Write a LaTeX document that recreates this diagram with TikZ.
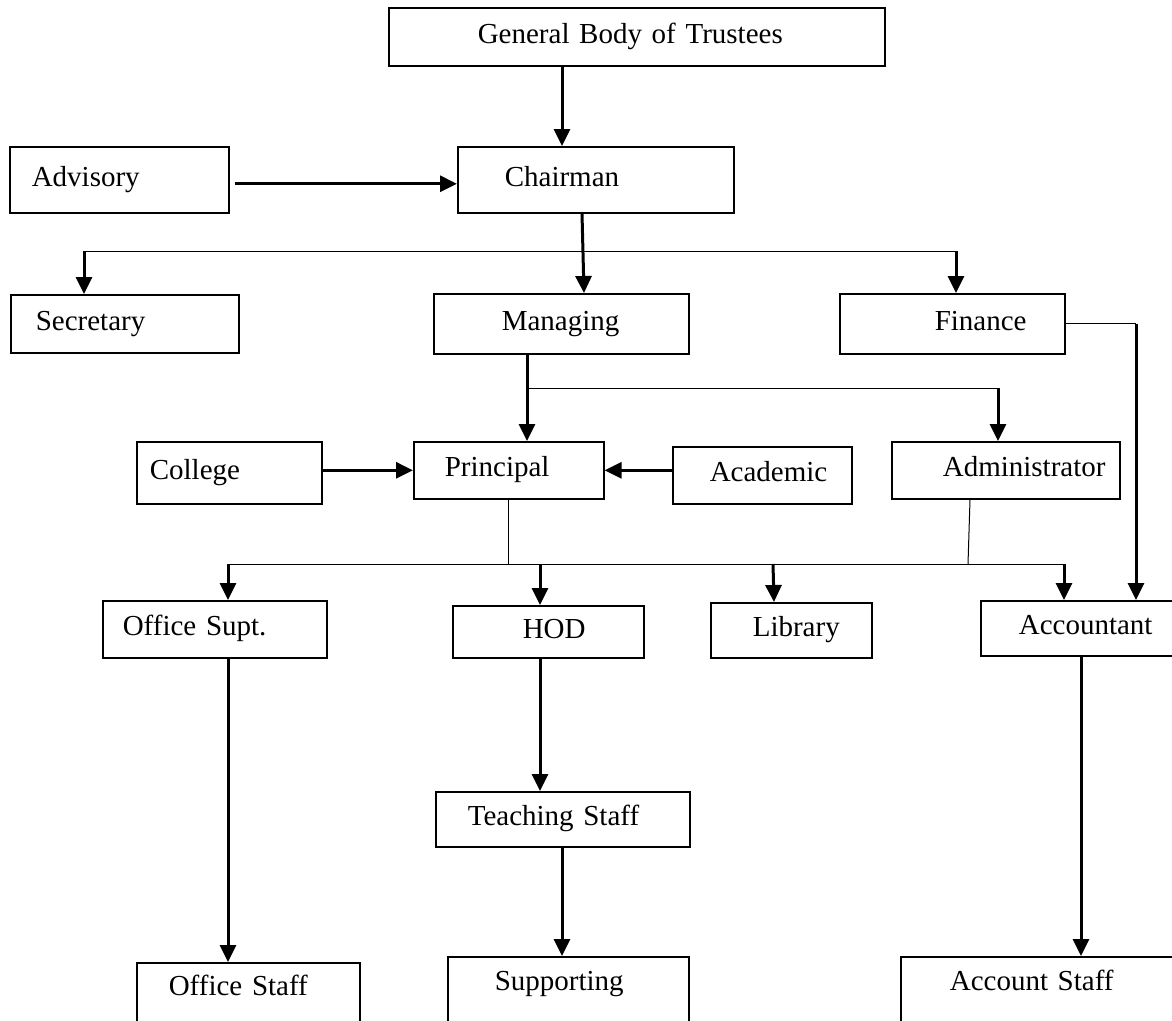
\documentclass[tikz,border=0pt]{standalone}
\usepackage{fontspec}
\setmainfont{Liberation Serif}
\usetikzlibrary{arrows.meta}
\setlength{\parindent}{0pt}

\begin{document}
\begin{tikzpicture}[x=1pt, y=-1pt,
    box/.style={draw, line width=1.6pt, anchor=north west, inner sep=0pt, align=left,
        text height=20pt, text depth=7pt, font=\fontsize{29}{34}\selectfont},
    txtoff/.style={execute at begin node={\hspace*{#1}}},
    conn/.style={line width=3pt, -{Triangle[length=17pt, width=16pt]}},
    branch/.style={line width=1pt}]
    \useasboundingbox (0,0) rectangle (1172,1020);
    \clip (0,0) rectangle (1172,1020);

    % Board boxes
    \node[box, txtoff=89pt, text width=496pt, minimum height=58pt] (gbt) at (388,7) {General Body of Trustees};
    \node[box, txtoff=22pt, text width=219pt, minimum height=66pt] (advisory) at (9,146) {Advisory};
    \node[box, txtoff=47pt, text width=276pt, minimum height=66pt] (chairman) at (457,146) {Chairman};

    % Second row
    \node[box, txtoff=25pt, text width=228pt, minimum height=58pt] (secretary) at (10,294) {Secretary};
    \node[box, txtoff=68pt, text width=255pt, minimum height=60pt] (managing) at (433,293) {Managing};
    \node[box, txtoff=95pt, text width=225pt, minimum height=60pt] (finance) at (839,293) {Finance};

    % College row
    \node[box, txtoff=13pt, text width=185pt, minimum height=62pt] (college) at (136,441) {College};
    \node[box, txtoff=31pt, text width=190pt, minimum height=57pt] (principal) at (413,441) {Principal};
    \node[box, txtoff=37pt, text width=179pt, minimum height=57pt] (academic) at (672,446) {Academic};
    \node[box, txtoff=51pt, text width=228pt, minimum height=57pt] (administrator) at (891,441) {Administrator};

    % Sections
    \node[box, txtoff=20pt, text width=224pt, minimum height=57pt] (officesupt) at (102,600) {Office Supt.};
    \node[box, txtoff=70pt, text width=191pt, minimum height=52pt] (hod) at (452,605) {HOD};
    \node[box, txtoff=42pt, text width=161pt, minimum height=55pt] (library) at (710,602) {Library};
    \node[box, txtoff=38pt, text width=230pt, minimum height=55pt] (accountant) at (980,600) {Accountant};
    \node[box, txtoff=32pt, text width=254pt, minimum height=55pt] (teaching) at (435,791) {Teaching Staff};

    % Staff boxes, cut by the page edge
    \node[box, txtoff=32pt, text width=223pt, text height=33pt, text depth=100pt] (officestaff) at (136,962) {Office Staff};
    \node[box, txtoff=47pt, text width=241pt, text height=34pt, text depth=100pt] (supporting) at (447,956) {Supporting};
    \node[box, txtoff=49pt, text width=300pt, text height=34pt, text depth=100pt] (accountstaff) at (900,956) {Account Staff};

    % Arrows
    \draw[conn] ([xshift=105pt]chairman.north west |- gbt.south) -- ([xshift=105pt]chairman.north west);
    \draw[conn] ([xshift=5pt, yshift=-4pt]advisory.east) -- ([yshift=-4pt]chairman.west);
    \draw[conn] ([xshift=125pt]chairman.south west) -- ([xshift=151pt]managing.north west);

    \coordinate (split1) at (0,251);
    \draw[branch] ([xshift=74pt]secretary.north west |- split1) -- ([xshift=117pt]finance.north west |- split1);
    \draw[conn] ([xshift=74pt]secretary.north west |- split1) -- ([xshift=74pt]secretary.north west);
    \draw[conn] ([xshift=117pt]finance.north west |- split1) -- ([xshift=117pt]finance.north west);

    \draw[branch] (finance.east) -- ([xshift=156pt]accountant.north west |- finance.east);
    \draw[conn] ([xshift=156pt]accountant.north west |- finance.east) -- ([xshift=156pt]accountant.north west);

    \draw[conn] ([xshift=94pt]managing.south west) -- ([xshift=114pt]principal.north west);
    \coordinate (split2) at (0,388);
    \draw[branch] ([xshift=94pt]managing.south west |- split2) -- ([xshift=107pt]administrator.north west |- split2);
    \draw[conn] ([xshift=107pt]administrator.north west |- split2) -- ([xshift=107pt]administrator.north west);

    \draw[conn] (principal.west -| college.east) -- (principal.west);
    \draw[conn] (principal.east -| academic.west) -- (principal.east);

    % Principal and Administrator to sections
    \coordinate (split3) at (0,564);
    \draw[branch] ([xshift=95pt]principal.south west) -- ([xshift=95pt]principal.south west |- split3);
    \draw[branch] ([xshift=79pt]administrator.south west) -- ([xshift=77pt]administrator.south west |- split3);
    \draw[branch] ([xshift=126pt]officesupt.north west |- split3) -- ([xshift=84pt]accountant.north west |- split3);
    \draw[conn] ([xshift=126pt]officesupt.north west |- split3) -- ([xshift=126pt]officesupt.north west);
    \draw[conn] ([xshift=88pt]hod.north west |- split3) -- ([xshift=88pt]hod.north west);
    \draw[conn] ([xshift=63pt]library.north west |- split3) -- ([xshift=64pt]library.north west);
    \draw[conn] ([xshift=84pt]accountant.north west |- split3) -- ([xshift=84pt]accountant.north west);

    % Down to the staff
    \draw[conn] ([xshift=126pt]officesupt.south west) -- ([xshift=92pt]officestaff.north west);
    \draw[conn] ([xshift=88pt]hod.south west) -- ([xshift=105pt]teaching.north west);
    \draw[conn] ([xshift=127pt]teaching.south west) -- ([xshift=115pt]supporting.north west);
    \draw[conn] ([xshift=101pt]accountant.south west) -- ([xshift=181pt]accountstaff.north west);
\end{tikzpicture}
\end{document}
